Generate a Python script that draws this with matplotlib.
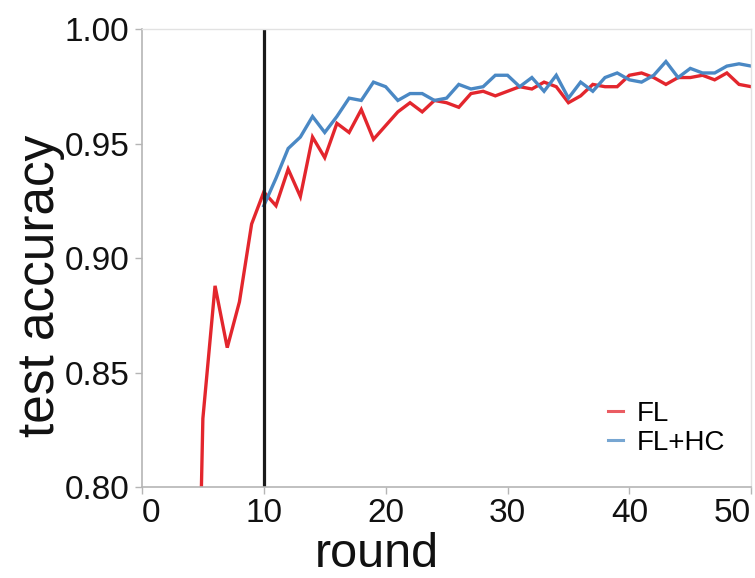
import matplotlib
matplotlib.use("Agg")
import matplotlib.pyplot as plt
from matplotlib.lines import Line2D

plt.rcParams['font.family'] = ['Liberation Sans', 'DejaVu Sans']

# test accuracy per round
rondas_fl = list(range(4, 51))
acc_fl = [0.58, 0.830, 0.888, 0.861, 0.881, 0.915, 0.929,
          0.923, 0.939, 0.927, 0.953, 0.944, 0.959, 0.955, 0.965, 0.952,
          0.958, 0.964, 0.968, 0.964, 0.969, 0.968, 0.966, 0.972, 0.973, 0.971,
          0.973, 0.975, 0.974, 0.977, 0.975, 0.968, 0.971, 0.976, 0.975, 0.975,
          0.980, 0.981, 0.979, 0.976, 0.979, 0.979, 0.980, 0.978, 0.981, 0.976,
          0.975]

rondas_hc = list(range(10, 51))
acc_hc = [0.923,
          0.935, 0.948, 0.953, 0.962, 0.955, 0.962, 0.970, 0.969, 0.977,
          0.975, 0.969, 0.972, 0.972, 0.969, 0.970, 0.976, 0.974, 0.975, 0.980,
          0.980, 0.975, 0.979, 0.973, 0.980, 0.970, 0.977, 0.973, 0.979, 0.981,
          0.978, 0.977, 0.980, 0.986, 0.979, 0.983, 0.981, 0.981, 0.984, 0.985,
          0.984]

ronda_corte = 10

rojo = '#e3262d'
azul = '#4a88c4'
gris = '#b5b5b5'

fig = plt.figure(figsize=(7.55, 5.78), dpi=100)
ax = fig.add_axes([0.188, 0.157, 0.807, 0.792])

ax.plot(rondas_fl, acc_fl, color=rojo, lw=2.4, solid_joinstyle='miter')
ax.plot(rondas_hc, acc_hc, color=azul, lw=2.4, solid_joinstyle='miter')
ax.axvline(ronda_corte, color='#1a1a1a', lw=2.3)

ax.set_xlim(0, 50)
ax.set_ylim(0.80, 1.00)
ax.set_xticks([0, 10, 20, 30, 40, 50])
ax.set_yticks([0.80, 0.85, 0.90, 0.95, 1.00])
ax.set_yticklabels(['0.80', '0.85', '0.90', '0.95', '1.00'])

for lado in ['left', 'bottom']:
    ax.spines[lado].set_color(gris)
    ax.spines[lado].set_linewidth(1.2)
for lado in ['top', 'right']:
    ax.spines[lado].set_color('#e2e2e2')
    ax.spines[lado].set_linewidth(1.0)

ax.tick_params(axis='both', length=5, width=1, color=gris,
               labelsize=24, labelcolor='#111111')
ax.tick_params(axis='y', pad=4)
ax.tick_params(axis='x', pad=3)

# first and last x labels flush with the axis ends
etiquetas = ax.get_xticklabels()
etiquetas[0].set_ha('left')
etiquetas[-1].set_ha('right')

ax.set_xlabel('round', fontsize=35, color='#111111')
ax.set_ylabel('test accuracy', fontsize=37, color='#111111')
ax.xaxis.label.set_va('center')
ax.yaxis.label.set_va('center')
ax.xaxis.set_label_coords(0.386, -0.147)
ax.yaxis.set_label_coords(-0.166, 0.44)

manijas = [Line2D([], [], color=rojo, lw=2.2, alpha=0.75),
           Line2D([], [], color=azul, lw=2.2, alpha=0.75)]
ax.legend(manijas, ['FL', 'FL+HC'], loc='center left',
          bbox_to_anchor=(0.765, 0.129), frameon=False, fontsize=20,
          handlelength=0.55, handletextpad=0.5, labelspacing=0.1,
          borderpad=0, borderaxespad=0)

fig.savefig('out.png', dpi=100)
